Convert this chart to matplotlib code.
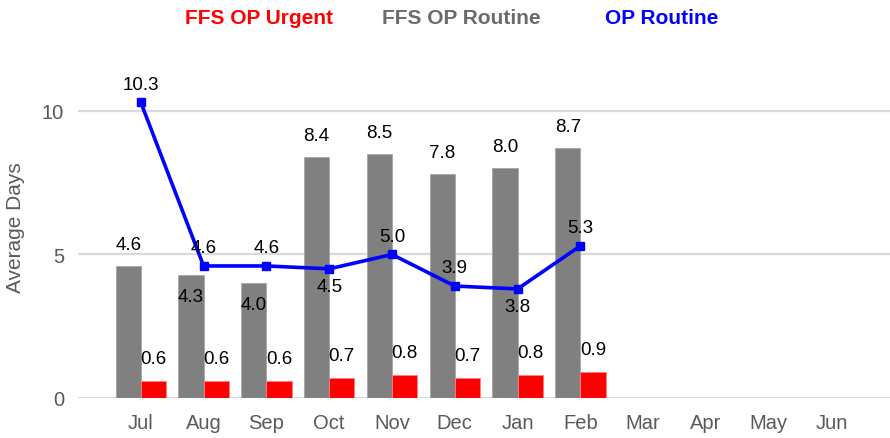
import matplotlib
matplotlib.use("Agg")
from matplotlib import pyplot as plt

months = ["Jul", "Aug", "Sep", "Oct", "Nov", "Dec", "Jan", "Feb", "Mar", "Apr", "May", "Jun"]
ffs_routine = [4.6, 4.3, 4.0, 8.4, 8.5, 7.8, 8.0, 8.7]
ffs_urgent = [0.6, 0.6, 0.6, 0.7, 0.8, 0.7, 0.8, 0.9]
op_routine = [10.3, 4.6, 4.6, 4.5, 5.0, 3.9, 3.8, 5.3]

# where each label sits: +1 above, -1 below (inside bar for the grey bars)
routine_label_side = [1, -1, -1, 1, 1, 1, 1, 1]
line_label_side = [1, 1, 1, -1, 1, 1, -1, 1]

RED = "#FF0000"
GREY = "#808080"
BLUE = "#0000FF"
TEXT_GREY = "#595959"

plt.rcParams["font.family"] = ["Liberation Sans", "DejaVu Sans"]

fig = plt.figure(figsize=(8.9, 4.39), dpi=100)
ax = fig.add_axes([78 / 890, 1 - 399 / 439, (890 - 78) / 890, (399 - 60) / 439])

n = len(ffs_routine)
xs = list(range(n))
w = 0.4

ax.bar([x - w / 2 for x in xs], ffs_routine, width=w, color=GREY,
       edgecolor="#a6a6a6", linewidth=0.6, zorder=2)
ax.bar([x + w / 2 for x in xs], ffs_urgent, width=w, color=RED,
       edgecolor="#ff8080", linewidth=0.6, zorder=2)
ax.plot(xs, op_routine, color=BLUE, lw=2.6, marker="s", markersize=6, zorder=3)

for x, v, side in zip(xs, ffs_routine, routine_label_side):
    ax.annotate(f"{v:.1f}", (x - w / 2, v), xytext=(0, 15.5 * side),
                textcoords="offset points", ha="center", va="center",
                fontsize=13.5, color="black", zorder=4)
for x, v in zip(xs, ffs_urgent):
    ax.annotate(f"{v:.1f}", (x + w / 2, v), xytext=(0, 16),
                textcoords="offset points", ha="center", va="center",
                fontsize=13.5, color="black", zorder=4)
for x, v, side in zip(xs, op_routine, line_label_side):
    ax.annotate(f"{v:.1f}", (x, v), xytext=(0, 13 * side),
                textcoords="offset points", ha="center", va="center",
                fontsize=13.5, color="black", zorder=4)

ax.set_xlim(-1.0, 11.93)
ax.set_ylim(0, 11.81)
ax.set_xticks(range(len(months)))
ax.set_xticklabels(months)
ax.set_yticks([0, 5, 10])
ax.tick_params(axis="both", length=0, labelsize=14.5, colors=TEXT_GREY)
ax.tick_params(axis="y", pad=10)
ax.tick_params(axis="x", pad=11)
ax.yaxis.grid(True, color="#d9d9d9", lw=1.6, zorder=0)
ax.set_axisbelow(True)
for s in ax.spines.values():
    s.set_visible(False)

fig.text(16 / 890, 1 - 228 / 439, "Average Days", rotation=90, ha="center",
         va="center", fontsize=15, color=TEXT_GREY)

legend_items = [("FFS OP Urgent", RED, 259), ("FFS OP Routine", "#6b6b6b", 461),
                ("OP Routine", BLUE, 662)]
for label, color, cx in legend_items:
    fig.text(cx / 890, 1 - 19 / 439, label, ha="center", va="center",
             fontsize=15, fontweight="bold", color=color)

fig.savefig("out.png", dpi=100, facecolor="white")
